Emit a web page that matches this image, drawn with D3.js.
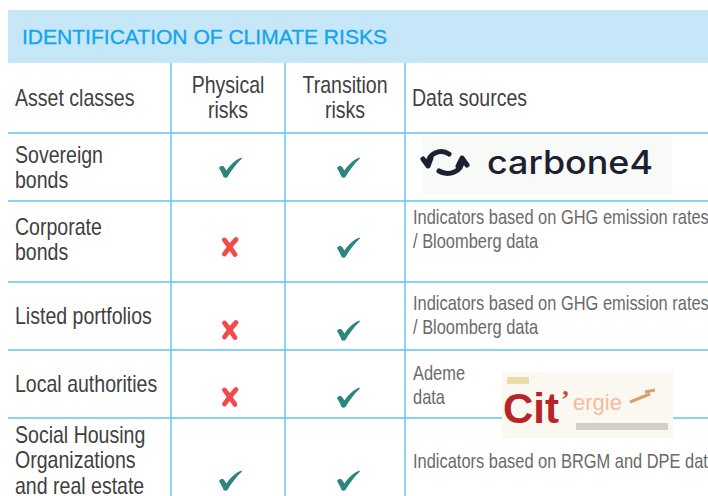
<!DOCTYPE html>
<html lang="en">
<head>
    <meta charset="UTF-8">
    <title>Identification of climate risks</title>
    <style>
        body { margin: 0; padding: 0; background: #fff; }
        svg { display: block; }
        .title { font-family: 'Liberation Sans', Arial, sans-serif; font-size: 21px; fill: #13a4ec; stroke: #13a4ec; stroke-width: 0.3; }
        .label { font-family: 'Liberation Sans', Arial, sans-serif; font-size: 23px; fill: #3f3f3f; }
        .source { font-family: 'Liberation Sans', Arial, sans-serif; font-size: 19.8px; fill: #6a6a6a; }
        .grid { stroke: #5cc6f2; stroke-width: 1.4; }
    </style>
</head>
<body>
    <svg id="table"></svg>
    <script src="https://cdn.jsdelivr.net/npm/d3@7"></script>
    <script>
        // Data
        const title = 'IDENTIFICATION OF CLIMATE RISKS';
        const columns = [['Asset classes'], ['Physical', 'risks'], ['Transition', 'risks'], ['Data sources']];
        const assetClasses = [
            ['Sovereign', 'bonds'],
            ['Corporate', 'bonds'],
            ['Listed portfolios'],
            ['Local authorities'],
            ['Social Housing', 'Organizations', 'and real estate']
        ];
        const physicalRisks = [true, false, false, false, true];
        const transitionRisks = [true, true, true, true, true];
        const dataSources = [
            { logo: 'carbone4', lines: [] },
            { logo: null, lines: ['Indicators based on GHG emission rates', '/ Bloomberg data'] },
            { logo: null, lines: ['Indicators based on GHG emission rates', '/ Bloomberg data'] },
            { logo: 'citergie', lines: ['Ademe', 'data'] },
            { logo: null, lines: ['Indicators based on BRGM and DPE data'] }
        ];

        // Layout
        const width = 708, height = 496;
        const colEdges = [8, 171, 285, 405, 708];
        const rowEdges = [64, 133, 201, 282, 350, 418, 530];
        const labelTop = [163, 235, 324, 392, 443];      // first-line baselines
        const markY = [167, 247, 330, 397, 480];
        const sourceTop = [null, 224, 310, 380, 468];
        const lineGap = 25.5;

        const svg = d3.select('#table')
            .attr('width', width)
            .attr('height', height);

        // multi-line text squeezed horizontally around its anchor x (original font is condensed)
        function addText(cls, lines, x, y, gap, squeeze, anchor) {
            const t = svg.append('text')
                .attr('class', cls)
                .attr('text-anchor', anchor || 'start')
                .attr('transform', `translate(${x},0) scale(${squeeze},1)`);
            lines.forEach((l, j) => {
                t.append('tspan').attr('x', 0).attr('y', y + j * gap).text(l);
            });
            return t;
        }

        // Title band
        svg.append('rect')
            .attr('x', 8).attr('y', 10)
            .attr('width', width - 8).attr('height', 53)
            .attr('fill', '#c5e7f8');
        svg.append('text')
            .attr('class', 'title')
            .attr('x', 22).attr('y', 44)
            .attr('textLength', 365).attr('lengthAdjust', 'spacingAndGlyphs')
            .text(title);

        // Grid lines
        svg.selectAll('.hline')
            .data(rowEdges.slice(1, -1))
            .enter().append('line')
            .attr('class', 'grid')
            .attr('x1', 8).attr('x2', width)
            .attr('y1', d => d).attr('y2', d => d);
        svg.selectAll('.vline')
            .data(colEdges.slice(1, -1))
            .enter().append('line')
            .attr('class', 'grid')
            .attr('x1', d => d).attr('x2', d => d)
            .attr('y1', 63).attr('y2', height);

        // Column headers
        const headerBase = [106, 93, 93, 106];
        columns.forEach((lines, i) => {
            const centered = i === 1 || i === 2;
            const x = centered ? (colEdges[i] + colEdges[i + 1]) / 2 : colEdges[i] + 7;
            addText('label', lines, x, headerBase[i], lineGap, 0.85, centered ? 'middle' : 'start');
        });

        // Asset class labels
        assetClasses.forEach((lines, i) => addText('label', lines, 15, labelTop[i], lineGap, 0.85));

        // Check / cross marks
        const checkPath = 'M-11,1 C-9.5,-1.5 -7,-1.5 -5.5,0.5 L-3.5,3.5 C0,-2 5,-7 11.5,-9.5 C12,-9 12,-8.5 11.5,-8 C6,-3 1,4 -2.5,10 C-3.5,11 -5.5,11 -6.5,10 C-8,6 -9.5,3.5 -11,1 Z';
        function drawMark(ok, x, y) {
            if (ok) {
                svg.append('path')
                    .attr('d', checkPath)
                    .attr('transform', `translate(${x},${y})`)
                    .attr('fill', '#2e8580');
            } else {
                const g = svg.append('g').attr('transform', `translate(${x},${y})`);
                g.append('path').attr('d', 'M-5.5,-7 Q0,0 5,7.5')
                    .attr('stroke', '#f04a4a').attr('stroke-width', 4.8).attr('fill', 'none').attr('stroke-linecap', 'round');
                g.append('path').attr('d', 'M6,-7.5 Q0,-1 -5.5,7')
                    .attr('stroke', '#f04a4a').attr('stroke-width', 4.8).attr('fill', 'none').attr('stroke-linecap', 'round');
            }
        }
        physicalRisks.forEach((v, i) => drawMark(v, 230, markY[i]));
        transitionRisks.forEach((v, i) => drawMark(v, 348, markY[i]));

        // Data sources text
        dataSources.forEach((d, i) => {
            if (d.lines.length) addText('source', d.lines, 413, sourceTop[i], 24.5, 0.83);
        });

        // carbone4 logo
        const c4 = svg.append('g');
        c4.append('rect').attr('x', 422).attr('y', 137).attr('width', 250).attr('height', 58).attr('fill', '#f8faf8');
        c4.append('path')
            .attr('d', 'M449,154 C440,148 428,154 428,164 M431,158 L428,166 L423,159')
            .attr('stroke', '#1d2030').attr('stroke-width', 5).attr('fill', 'none').attr('stroke-linecap', 'round').attr('stroke-linejoin', 'round');
        c4.append('path')
            .attr('d', 'M439,171 C449,177 462,171 462,161 M458,166 L462,158 L467,165')
            .attr('stroke', '#1d2030').attr('stroke-width', 5).attr('fill', 'none').attr('stroke-linecap', 'round').attr('stroke-linejoin', 'round');
        c4.append('text')
            .attr('x', 487).attr('y', 174)
            .attr('textLength', 166).attr('lengthAdjust', 'spacingAndGlyphs')
            .style('font-family', 'Inter, "Open Sans", sans-serif')
            .style('font-weight', 500)
            .style('font-size', '33px')
            .attr('fill', '#1d2030')
            .text('carbone4');

        // Cit'ergie logo
        const ce = svg.append('g');
        ce.append('rect').attr('x', 502).attr('y', 372).attr('width', 171).attr('height', 66).attr('fill', '#fbf8f2');
        ce.append('rect').attr('x', 507).attr('y', 377).attr('width', 22).attr('height', 7).attr('fill', '#e6d08a').attr('opacity', 0.7);
        ce.append('text').attr('x', 503).attr('y', 423)
            .attr('textLength', 56).attr('lengthAdjust', 'spacingAndGlyphs')
            .style('font-family', '"Liberation Sans", sans-serif').style('font-size', '42px').style('font-weight', 700)
            .attr('fill', '#b82528').text('Cit');
        ce.append('text').attr('x', 561).attr('y', 408)
            .style('font-family', '"Liberation Serif", serif').style('font-size', '26px').style('font-weight', 700)
            .attr('fill', '#c64a3c').text('\u2019');
        ce.append('text').attr('x', 573).attr('y', 410)
            .style('font-family', '"Liberation Sans", sans-serif').style('font-size', '22px')
            .attr('fill', '#efb48a').attr('opacity', 0.85).text('ergie');
        ce.append('path').attr('d', 'M630,402 L650,394 M645,392 L655,390')
            .attr('stroke', '#d9a06c').attr('stroke-width', 3).attr('fill', 'none');
        ce.append('rect').attr('x', 576).attr('y', 423).attr('width', 92).attr('height', 7).attr('fill', '#b9b5b0').attr('opacity', 0.6);
    </script>
</body>
</html>
